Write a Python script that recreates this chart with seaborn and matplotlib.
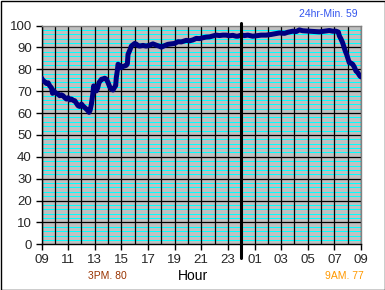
import numpy as np
import pandas as pd
import matplotlib
matplotlib.use("Agg")
import matplotlib.pyplot as plt
import seaborn as sns
from matplotlib.patches import Rectangle

# Hours elapsed since 09:00 and readings (rows of 10 matched pairs)
hours = [0.0, 0.1, 0.2, 0.37, 0.5, 0.62, 0.75, 0.83, 0.92, 1.0,
         1.13, 1.25, 1.37, 1.5, 1.62, 1.75, 1.87, 2.0, 2.12, 2.25,
         2.37, 2.5, 2.62, 2.75, 2.87, 3.0, 3.12, 3.25, 3.37, 3.5,
         3.57, 3.65, 3.75, 3.85, 3.92, 4.0, 4.12, 4.22, 4.32, 4.5,
         4.62, 4.75, 4.87, 5.0, 5.12, 5.25, 5.37, 5.47, 5.57, 5.62,
         5.7, 5.75, 5.87, 6.0, 6.12, 6.25, 6.37, 6.45, 6.5, 6.62,
         6.75, 6.87, 7.0, 7.12, 7.25, 7.37, 7.62, 7.87, 8.12, 8.37,
         8.62, 8.87, 9.0, 9.25, 9.5, 9.75, 10.0, 10.25, 10.5, 10.87,
         11.12, 11.37, 11.62, 11.87, 12.12, 12.37, 12.62, 12.87, 13.12, 13.37,
         13.62, 13.87, 14.12, 14.37, 14.62, 14.75, 15.0, 15.25, 15.5, 15.87,
         16.25, 16.5, 16.87, 17.25, 17.5, 17.87, 18.25, 18.5, 18.87, 19.12,
         19.37, 19.62, 20.12, 20.5, 20.87, 21.25, 21.62, 21.87, 22.12, 22.3,
         22.37, 22.5, 22.62, 22.72, 22.82, 22.92, 23.0, 23.12, 23.25, 23.37,
         23.5, 23.62, 23.75, 23.92, 24.0]
values = [76.0, 75.0, 74.5, 73.5, 73.8, 72.4, 71.5, 69.0, 70.2, 69.4,
          69.0, 68.6, 67.9, 68.3, 67.9, 67.0, 66.4, 67.0, 66.0, 66.4,
          65.8, 65.6, 64.5, 63.3, 63.0, 64.1, 63.2, 62.5, 61.8, 61.0,
          60.3, 61.2, 64.1, 68.5, 72.4, 70.5, 70.1, 71.5, 73.9, 75.4,
          75.6, 75.9, 75.5, 73.9, 72.0, 70.9, 70.5, 71.6, 72.5, 76.2,
          79.5, 82.3, 81.8, 80.7, 81.3, 81.5, 81.8, 82.5, 86.8, 88.5,
          90.6, 91.2, 91.8, 91.5, 90.8, 90.6, 90.9, 90.6, 91.0, 91.6,
          91.0, 90.5, 90.1, 90.8, 91.4, 91.6, 91.8, 92.6, 92.5, 93.2,
          93.0, 93.4, 94.1, 94.0, 94.4, 94.7, 94.8, 95.2, 95.6, 95.4,
          95.6, 95.6, 95.3, 95.5, 95.1, 95.1, 95.6, 95.4, 95.6, 95.1,
          95.4, 95.6, 95.6, 95.9, 96.2, 96.6, 96.4, 96.9, 97.4, 97.2,
          98.0, 97.6, 97.4, 97.2, 97.1, 97.4, 97.7, 97.4, 97.4, 97.0,
          95.3, 93.8, 92.1, 90.2, 88.3, 86.8, 85.3, 83.0, 82.8, 82.3,
          81.0, 79.2, 78.5, 76.9, 76.5]

xtick_labels = ["09", "11", "13", "15", "17", "19", "21", "23",
                "01", "03", "05", "07", "09"]

df = pd.DataFrame({"hour": hours, "value": values})

sns.set_style("white")
plt.rcParams["font.family"] = ["Liberation Sans", "DejaVu Sans"]

W, H = 385, 290
fig = plt.figure(figsize=(W / 100, H / 100), dpi=100)
fig.patch.set_facecolor("white")
ax = fig.add_axes([41.5 / W, 1 - 244.3 / H, (361 - 41.5) / W, (244.3 - 25.5) / H])
ax.set_facecolor("#C0C0C0")

sns.lineplot(data=df, x="hour", y="value", ax=ax, color="#000080",
             linewidth=3.6, zorder=5)

ax.set_xlim(0, 24)
ax.set_ylim(0, 100)
major_y = np.arange(0, 101, 10)
ax.set_xticks(np.arange(0, 25, 2))
ax.set_xticklabels(xtick_labels)
ax.set_xticks(np.arange(0, 25, 1), minor=True)
ax.set_yticks(major_y)
ax.set_yticks([v for v in range(0, 101, 2) if v % 10 != 0], minor=True)

ax.set_axisbelow(True)
ax.grid(which="minor", axis="y", color="#00FFFF", linewidth=0.72)
ax.grid(which="both", axis="x", color="black", linewidth=0.9)
ax.yaxis.set_zorder(0.4)
ax.xaxis.set_zorder(0.6)
for yv in major_y[1:-1]:
    ax.axhline(yv, color="black", linewidth=0.9, zorder=1)

ax.tick_params(axis="both", which="major", direction="out", length=4, width=1,
               color="black", labelsize=9.5, pad=3, bottom=True, left=True)
ax.tick_params(axis="both", which="minor", length=0)
ax.set_xlabel("")
ax.set_ylabel("")

for s in ["left", "bottom"]:
    ax.spines[s].set_color("black")
    ax.spines[s].set_linewidth(1)
for s in ["top", "right"]:
    ax.spines[s].set_color("#808080")
    ax.spines[s].set_linewidth(1)

# midnight marker line
ax.axvline(15, ymin=-0.063, ymax=1.01, color="black", linewidth=2.2,
           clip_on=False, zorder=6)

def ftext(x, y, s, **kw):
    fig.text(x / W, 1 - y / H, s, **kw)

ftext(358, 14, "24hr-Min. 59", color="#3355EE", fontsize=7.5, ha="right", va="center")
ftext(107, 276, "3PM. 80", color="#993300", fontsize=7.5, ha="center", va="center")
ftext(193, 276, "Hour", color="black", fontsize=10, ha="center", va="center")
ftext(364, 276, "9AM. 77", color="#FF9900", fontsize=7.5, ha="right", va="center")

fig.patches.append(Rectangle((0.5 / W, 0.5 / H), (W - 1) / W, (H - 1) / H,
                             transform=fig.transFigure, fill=False,
                             edgecolor="black", linewidth=1))

fig.savefig("out.png", dpi=100)
